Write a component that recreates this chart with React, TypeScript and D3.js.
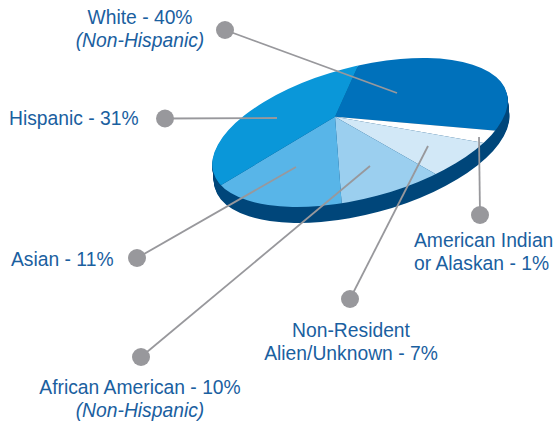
import * as d3 from "d3";
import React from "react";

const WIDTH = 555;
const HEIGHT = 421;

// clockwise from the top of the disc
const categories = ["White", "American Indian", "Non-Resident", "African American", "Asian", "Hispanic"];
const shares = [40, 1, 7, 10, 11, 31];
const colors = ["#0071bb", "#ffffff", "#d2e8f7", "#9bcfef", "#58b5e8", "#0a97d9"];

// the disc is tilted, so equal shares don't get equal angles on screen
const screenAngles = [24.4, 95, 100, 119.7, 175.6, 239, 384.4];

const APEX = [335, 116.7];
const ELLIPSE = { cx: 360, cy: 132.5, rx: 152, ry: 65.5, tilt: -15 };
const SIDE = 16;
const SIDE_COLOR = "#00467a";
const TEXT_COLOR = "#1a609f";
const GREY = "#98989c";

const leaders = [
  { dot: [225, 30], end: [397, 93] },
  { dot: [165, 118.5], end: [277, 118] },
  { dot: [137, 258], end: [296, 167] },
  { dot: [141, 357], end: [370, 166] },
  { dot: [350, 299], end: [428, 146] },
  { dot: [480, 215], end: [479, 137] },
];

const labels = [
  { x: 140, y: 24, anchor: "middle", text: "White - 40%" },
  { x: 140, y: 47, anchor: "middle", text: "(Non-Hispanic)", italic: true },
  { x: 9, y: 125, anchor: "start", text: "Hispanic - 31%" },
  { x: 11, y: 266, anchor: "start", text: "Asian - 11%" },
  { x: 140, y: 394, anchor: "middle", text: "African American - 10%" },
  { x: 140, y: 417, anchor: "middle", text: "(Non-Hispanic)", italic: true },
  { x: 351, y: 337, anchor: "middle", text: "Non-Resident" },
  { x: 351, y: 360, anchor: "middle", text: "Alien/Unknown - 7%" },
  { x: 414, y: 247, anchor: "start", text: "American Indian" },
  { x: 414, y: 270, anchor: "start", text: "or Alaskan - 1%" },
];

export default function App() {
  const pie = d3.pie<number>().sort(null)(shares);

  const cumulative = d3.cumsum(shares);
  const angleScale = d3
    .scaleLinear()
    .domain([0, ...Array.from(cumulative)].map((d) => (d / 100) * 2 * Math.PI))
    .range(screenAngles.map((d) => (d * Math.PI) / 180));

  const arc = d3.arc<d3.PieArcDatum<number>>();
  const slicePath = (d: d3.PieArcDatum<number>) =>
    arc({
      ...d,
      innerRadius: 0,
      outerRadius: 400,
      startAngle: angleScale(d.startAngle),
      endAngle: angleScale(d.endAngle),
    } as any);

  const ellipseTransform = `rotate(${ELLIPSE.tilt} ${ELLIPSE.cx} ${ELLIPSE.cy})`;

  return (
    <svg
      width={WIDTH}
      height={HEIGHT}
      style={{ position: "absolute", left: 0, top: 0, background: "#fff" }}
      fontFamily="'Liberation Sans', Arial, sans-serif"
    >
      <defs>
        <clipPath id="disc">
          <ellipse
            cx={ELLIPSE.cx}
            cy={ELLIPSE.cy}
            rx={ELLIPSE.rx}
            ry={ELLIPSE.ry}
            transform={ellipseTransform}
          />
        </clipPath>
      </defs>

      {/* side of the disc */}
      {d3.range(1, SIDE + 1).map((i) => (
        <ellipse
          key={i}
          cx={ELLIPSE.cx + i * 0.1}
          cy={ELLIPSE.cy + i}
          rx={ELLIPSE.rx}
          ry={ELLIPSE.ry}
          transform={`rotate(${ELLIPSE.tilt} ${ELLIPSE.cx + i * 0.1} ${ELLIPSE.cy + i})`}
          fill={SIDE_COLOR}
        />
      ))}

      <g clipPath="url(#disc)">
        <g transform={`translate(${APEX[0]},${APEX[1]})`}>
          {pie.map((d, i) => (
            <path key={categories[i]} d={slicePath(d) as string} fill={colors[i]} />
          ))}
        </g>
      </g>

      {leaders.map((l, i) => (
        <g key={i}>
          <line
            x1={l.dot[0]}
            y1={l.dot[1]}
            x2={l.end[0]}
            y2={l.end[1]}
            stroke={GREY}
            strokeWidth={1.8}
          />
          <circle cx={l.dot[0]} cy={l.dot[1]} r={9} fill={GREY} />
        </g>
      ))}

      {labels.map((l, i) => (
        <text
          key={i}
          x={l.x}
          y={l.y}
          textAnchor={l.anchor as any}
          fontSize={19.3}
          fontStyle={l.italic ? "italic" : "normal"}
          fill={TEXT_COLOR}
        >
          {l.text}
        </text>
      ))}
    </svg>
  );
}
